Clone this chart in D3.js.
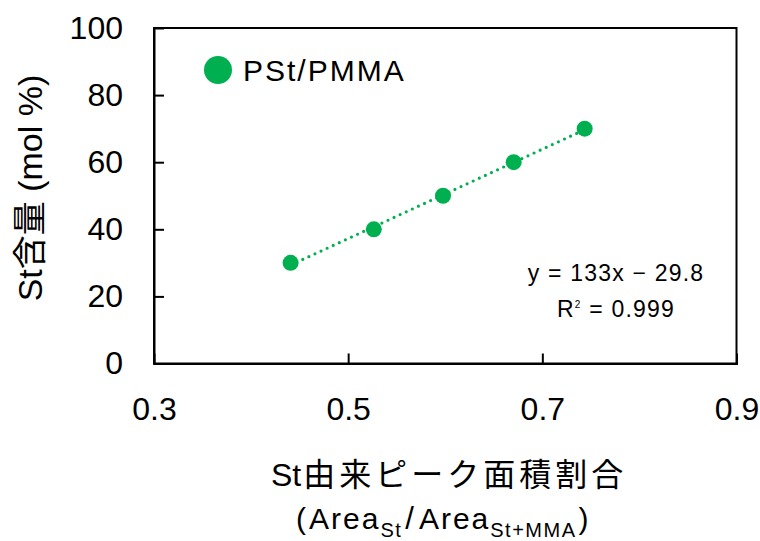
<!DOCTYPE html>
<html><head><meta charset="utf-8">
<script src="https://cdn.jsdelivr.net/npm/d3@7"></script>
<style>
body{margin:0;background:#fff;}
text{font-family:"Liberation Sans",Arial,"Noto Sans CJK JP",sans-serif;fill:#000;}
</style></head>
<body><svg id="c" width="760" height="541"></svg>
<script>
const areaRatio = [0.4407, 0.5264, 0.5977, 0.6705, 0.7436];
const stContent = [30, 40, 50, 60, 70];
const xTicks = [0.3, 0.5, 0.7, 0.9];
const yTicks = [0, 20, 40, 60, 80, 100];
const seriesName = "PSt/PMMA";
const eqLabel = "y = 133x − 29.8";
const r2Label = "0.999";
const green = "#00B050";

const svg = d3.select("#c");
const L = 154, R = 736.5, T = 28, B = 363.5;
const x = d3.scaleLinear().domain([0.3, 0.9]).range([L, R]);
const y = d3.scaleLinear().domain([0, 100]).range([B, T]);

// frame
svg.append("rect").attr("x", L).attr("y", T).attr("width", R - L).attr("height", B - T)
  .attr("fill", "none").attr("stroke", "#000").attr("stroke-width", 2);

// axes
const xa = svg.append("g").attr("transform", `translate(0,${B})`)
  .call(d3.axisBottom(x).tickValues(xTicks).tickSize(-10).tickPadding(34).tickFormat(d3.format(".1f")));
const ya = svg.append("g").attr("transform", `translate(${L},0)`)
  .call(d3.axisLeft(y).tickValues(yTicks).tickSize(-10).tickPadding(31).tickFormat(d3.format("d")));
[xa, ya].forEach(g => {
  g.select(".domain").attr("stroke", "#000").attr("stroke-width", 2);
  g.selectAll(".tick line").attr("stroke", "#000").attr("stroke-width", 2);
  g.selectAll(".tick text").attr("fill", "#000").style("font-size", "32px");
});
xa.selectAll(".tick").filter(d => d === 0.3 || d === 0.9).select("line").remove();
ya.selectAll(".tick").filter(d => d === 0 || d === 100).select("line").remove();

// trendline (least squares from data)
const mx = d3.mean(areaRatio), my = d3.mean(stContent);
let sxy = 0, sxx = 0;
areaRatio.forEach((v, i) => { sxy += (v - mx) * (stContent[i] - my); sxx += (v - mx) ** 2; });
const slope = sxy / sxx, icpt = my - slope * mx;
const ext = d3.extent(areaRatio);
svg.append("line")
  .attr("x1", x(ext[0])).attr("y1", y(slope * ext[0] + icpt))
  .attr("x2", x(ext[1])).attr("y2", y(slope * ext[1] + icpt))
  .attr("stroke", green).attr("stroke-width", 3.2).attr("stroke-linecap", "round")
  .attr("stroke-dasharray", "0 6.7");

// points
svg.append("g").selectAll("circle").data(areaRatio).join("circle")
  .attr("cx", d => x(d)).attr("cy", (d, i) => y(stContent[i])).attr("r", 8).attr("fill", green);

// legend
svg.append("circle").attr("cx", 218).attr("cy", 70).attr("r", 14).attr("fill", green);
svg.append("text").attr("x", 243).attr("y", 81).style("font-size", "30px").style("letter-spacing", "2px").text(seriesName);

// equation
svg.append("text").attr("x", 616).attr("y", 281).attr("text-anchor", "middle")
  .style("font-size", "23px").style("letter-spacing", "1.2px").text(eqLabel);
const r2 = svg.append("text").attr("x", 616).attr("y", 317).attr("text-anchor", "middle")
  .style("font-size", "23px").style("letter-spacing", "1.2px");
r2.append("tspan").text("R");
r2.append("tspan").attr("dy", -9).style("font-size", "10px").text("2");
r2.append("tspan").attr("dy", 9).text(" = " + r2Label);

// y title
svg.append("text")
  .attr("transform", "translate(42,188) rotate(-90)").attr("text-anchor", "middle")
  .style("font-size", "34px").text("St含量 (mol %)");

// x title
const t1 = svg.append("text").attr("x", 271).attr("y", 486).style("font-size", "32px");
t1.append("tspan").text("St");
t1.append("tspan").attr("dx", 2).style("letter-spacing", "4px").text("由来ピーク面積割合");
const t2 = svg.append("text").attr("x", 296).attr("y", 529).style("font-size", "30px");
t2.append("tspan").text("(");
t2.append("tspan").attr("dx", 3).style("letter-spacing", "2px").text("Area");
t2.append("tspan").attr("dy", 8).style("font-size", "20px").style("letter-spacing", "1.5px").text("St");
t2.append("tspan").attr("dy", -8).attr("dx", 3).style("font-size", "31px").text("/");
t2.append("tspan").attr("dx", 5).style("letter-spacing", "2px").text("Area");
t2.append("tspan").attr("dy", 8).style("font-size", "20px").style("letter-spacing", "1.5px").text("St+MMA");
t2.append("tspan").attr("dy", -8).attr("dx", 2).text(")");
</script></body></html>
